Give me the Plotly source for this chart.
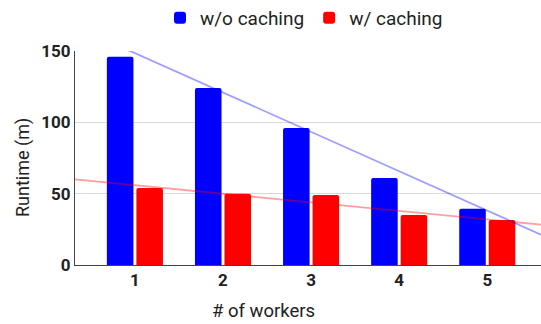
import numpy as np
import plotly.graph_objects as go

workers = [1, 2, 3, 4, 5]
without_caching = [146, 124, 96, 61, 39.5]
with_caching = [54, 50, 49, 35, 31.5]
y_ticks = [0, 50, 100, 150]

x_range = [0.32, 5.61]

W, H = 541, 324
L, R, T, B = 75, 0, 51, 59
pw, ph = W - L - R, H - T - B

fig = go.Figure()
fig.add_trace(go.Bar(x=workers, y=without_caching, name="w/o caching",
                     marker=dict(color="#0000ff", line=dict(width=0))))
fig.add_trace(go.Bar(x=workers, y=with_caching, name="w/ caching",
                     marker=dict(color="#ff0000", line=dict(width=0))))

xs = np.array(x_range)
for vals, col in [(without_caching, "rgba(0,0,255,0.38)"), (with_caching, "rgba(255,0,0,0.38)")]:
    m, b = np.polyfit(workers, vals, 1)
    fig.add_trace(go.Scatter(x=xs, y=m * xs + b, mode="lines", showlegend=False,
                             line=dict(color=col, width=1.8), hoverinfo="skip"))

fig.update_layout(
    width=W, height=H,
    margin=dict(l=L, r=R, t=T, b=B, autoexpand=False),
    paper_bgcolor="white", plot_bgcolor="white",
    font=dict(family="Roboto", size=16, color="#222222"),
    barmode="group", bargap=0.33, bargroupgap=0.1, barcornerradius=2,
    legend=dict(orientation="h", x=304 / W, xref="container", xanchor="center",
                y=1 - 18 / H, yref="container", yanchor="middle",
                font=dict(size=19), itemwidth=30, tracegroupgap=0),
    xaxis=dict(range=x_range, tickvals=workers, ticktext=[f"<b>{w}</b>" for w in workers],
               showgrid=False, zeroline=False, showline=True, linecolor="#444444", linewidth=1,
               automargin=False, tickfont=dict(size=17, color="#222222"), ticks=""),
    yaxis=dict(range=[0, 150], tickvals=y_ticks, ticktext=[f"<b>{t}</b>" for t in y_ticks],
               showgrid=True, gridcolor="#d9d9d9", zeroline=False, showline=True,
               linecolor="#444444", linewidth=1, automargin=False,
               tickfont=dict(size=17, color="#222222"), ticks=""),
    annotations=[
        dict(text="# of workers", xref="paper", yref="paper", x=(263 - L) / pw,
             y=(H - B - 311) / ph,
             xanchor="center", yanchor="middle", showarrow=False, font=dict(size=18.5)),
        dict(text="Runtime (m)", xref="paper", yref="paper", x=(23 - L) / pw,
             y=(H - B - 168) / ph,
             xanchor="center", yanchor="middle", textangle=-90, showarrow=False,
             font=dict(size=18)),
    ],
)

fig.write_html("out.html", config={"displayModeBar": False},
               post_script="document.body.style.margin='0';document.body.style.overflow='hidden';")
